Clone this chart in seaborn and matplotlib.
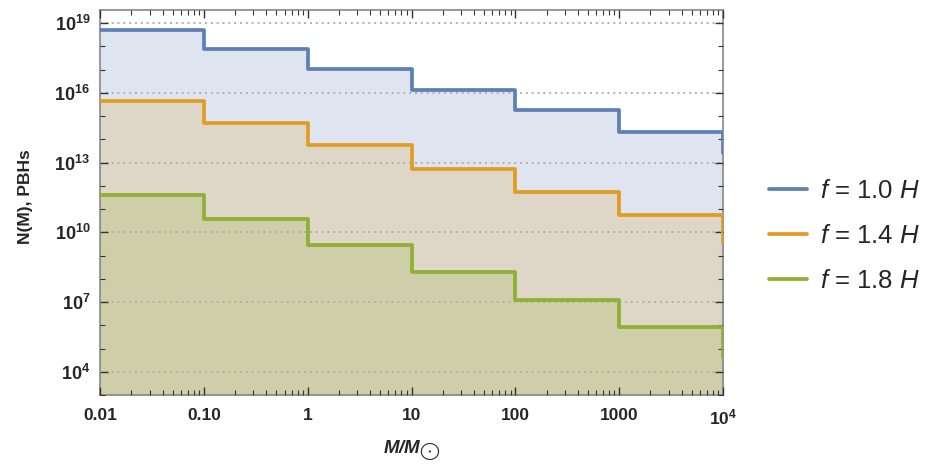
import numpy as np
import pandas as pd
import matplotlib
matplotlib.use("Agg")
import matplotlib.pyplot as plt
import matplotlib.ticker as mticker
import seaborn as sns

# ---- data ----
mass_edges = [0.01, 0.1, 1, 10, 100, 1000, 1e4, 1e5]
series_labels = [r"$f$ = 1.0 $H$", r"$f$ = 1.4 $H$", r"$f$ = 1.8 $H$"]
log_n_f10 = [18.71, 17.89, 17.02, 16.13, 15.27, 14.33, 13.40]
log_n_f14 = [15.66, 14.70, 13.74, 12.74, 11.74, 10.73, 9.55]
log_n_f18 = [11.60, 10.56, 9.44, 8.31, 7.10, 5.91, 4.60]
colors = ["#5e81b5", "#e19c24", "#8fb032"]
xtick_vals = [0.01, 0.1, 1, 10, 100, 1000, 1e4]
xtick_labels = ["0.01", "0.10", "1", "10", "100", "1000", r"$\mathbf{10^{4}}$"]
ytick_exps = [4, 7, 10, 13, 16, 19]

sns.set_style("ticks")
plt.rcParams["font.family"] = ["Liberation Sans", "DejaVu Sans"]
plt.rcParams["mathtext.fontset"] = "custom"
plt.rcParams["mathtext.rm"] = "Liberation Sans"
plt.rcParams["mathtext.it"] = "Liberation Sans:italic"
plt.rcParams["mathtext.bf"] = "Liberation Sans:bold"
plt.rcParams["mathtext.bfit"] = "Liberation Sans:italic:bold"

rows = []
for lab, logs in zip(series_labels, [log_n_f10, log_n_f14, log_n_f18]):
    ys = [10 ** v for v in logs] + [10 ** logs[-1]]
    for x, y in zip(mass_edges, ys):
        rows.append({"M": x, "N": y, "series": lab})
df = pd.DataFrame(rows)

fig = plt.figure(figsize=(9.4, 4.65), dpi=100)
ax = fig.add_axes([100 / 940, 1 - 395 / 465, 623 / 940, 385 / 465])
ax.set_xscale("log")
ax.set_yscale("log")

ymin, ymax = 10 ** 3.0, 10 ** 19.57
for i, lab in enumerate(series_labels):
    sub = df[df["series"] == lab]
    ax.fill_between(sub["M"], sub["N"], 1e-3, step="post",
                    color=colors[i], alpha=0.2, linewidth=0, zorder=1 + i * 0.1)

sns.lineplot(data=df, x="M", y="N", hue="series", palette=colors,
             drawstyle="steps-post", linewidth=2.7, ax=ax, legend=False,
             zorder=3, estimator=None, sort=False)

ax.set_xlim(0.01, 1e4)
ax.set_ylim(ymin, ymax)

# ticks
ax.xaxis.set_major_locator(mticker.FixedLocator(xtick_vals))
ax.xaxis.set_major_formatter(mticker.FixedFormatter(xtick_labels))
ax.xaxis.set_minor_locator(mticker.LogLocator(base=10, subs=np.arange(2, 10), numticks=20))
ax.xaxis.set_minor_formatter(mticker.NullFormatter())

ax.yaxis.set_major_locator(mticker.FixedLocator([10.0 ** e for e in ytick_exps]))
ax.yaxis.set_major_formatter(mticker.FixedFormatter(
    [r"$\mathbf{10^{%d}}$" % e for e in ytick_exps]))
ax.yaxis.set_minor_locator(mticker.FixedLocator(
    [10.0 ** e for e in range(3, 20) if e not in ytick_exps]))
ax.yaxis.set_minor_formatter(mticker.NullFormatter())

ax.tick_params(which="both", direction="in", top=True, right=True,
               color="#333333")
ax.tick_params(which="major", length=6, width=1)
ax.tick_params(which="minor", length=3.5, width=0.8)
ax.tick_params(axis="x", labelsize=12.5, pad=9)
ax.tick_params(axis="y", labelsize=13, pad=7)
for t in ax.get_xticklabels() + ax.get_yticklabels():
    t.set_fontweight("bold")

for s in ax.spines.values():
    s.set_color("#888888")
    s.set_linewidth(1.2)

ax.yaxis.grid(True, which="major", linestyle=(0, (1, 2)), linewidth=1.4,
              color="#b0b0b0", zorder=2)
ax.set_axisbelow(False)

ax.set_xlabel(r"$\mathbfit{M/M}_{\bigodot}$", fontsize=13.5, labelpad=8)
ax.set_ylabel("N(M), PBHs", fontsize=12.5, fontweight="bold")
ax.yaxis.set_label_coords(-0.1075, 0.514)

handles = [plt.Line2D([], [], color=c, linewidth=2.7) for c in colors]
fig.legend(handles, series_labels, loc="center left",
           bbox_to_anchor=(756 / 940, 1 - 236 / 465), frameon=False,
           fontsize=18.5, handlelength=1.5, handletextpad=0.5,
           labelspacing=0.8, borderpad=0)

fig.savefig("out.png", dpi=100)
